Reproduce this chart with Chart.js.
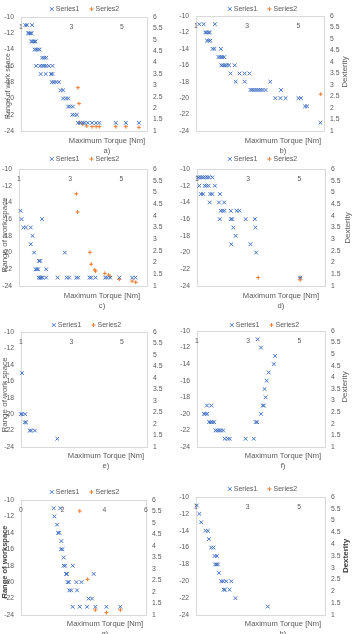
<!DOCTYPE html>
<html>
<head>
<meta charset="utf-8">
<script src="https://cdn.jsdelivr.net/npm/chart.js@4.4.0/dist/chart.umd.min.js"></script>
<style>
  html, body { margin: 0; padding: 0; background: #fff; }
  #wrap { position: relative; width: 356px; height: 634px; overflow: hidden; }
  #wrap canvas { position: absolute; left: 0; top: 0; }
</style>
</head>
<body>
<div id="wrap"></div>
<script>
"use strict";

// tick labels
const xTicks = [1, 3, 5];
const xTicksG = [0, 2, 4, 6];
const leftTicks = [-24, -22, -20, -18, -16, -14, -12, -10];
const rightTicks = [1, 1.5, 2, 2.5, 3, 3.5, 4, 4.5, 5, 5.5, 6];
const seriesNames = ["Series1", "Series2"];

// a)
const aS1X = [1.17, 1.24, 1.44, 1.28, 1.33, 1.38, 1.42, 1.41, 1.47, 1.53, 1.58, 1.54, 1.6, 1.67, 1.74, 1.84, 1.92, 2.0, 1.6, 1.76, 1.85, 1.92, 2.0, 2.1, 2.25, 1.78, 1.98, 2.19, 2.25, 2.22, 2.3, 2.4, 2.5, 2.57, 2.67, 2.67, 2.78, 2.87, 2.87, 2.95, 3.06, 3.04, 3.12, 3.22, 3.26, 3.35, 3.45, 3.52, 3.65, 3.82, 3.98, 4.11, 4.76, 5.16, 5.68];
const aS1Y = [-11, -11, -11, -12, -12, -12, -12, -13, -13, -13, -13, -14, -14, -14, -14, -15, -15, -15, -16, -16, -16, -16, -16, -16, -16, -17, -17, -17, -17, -18, -18, -18, -18, -19, -19, -20, -20, -20, -21, -21, -21, -22, -22, -22, -23, -23, -23, -23, -23, -23, -23, -23, -23, -23, -23];
const aS2X = [3.26, 3.3, 3.33, 3.45, 3.61, 3.82, 3.98, 4.11, 4.76, 5.16, 5.68];
const aS2Y = [2.9, 2.2, 1.38, 1.31, 1.22, 1.19, 1.19, 1.19, 1.19, 1.19, 1.16];

// b)
const bS1X = [1.13, 1.3, 1.74, 1.36, 1.42, 1.48, 1.54, 1.43, 1.5, 1.56, 1.65, 1.72, 1.97, 1.88, 1.95, 2.02, 2.1, 1.99, 2.06, 2.13, 2.2, 2.29, 2.51, 2.35, 2.7, 2.9, 3.09, 2.55, 2.9, 3.9, 3.13, 3.2, 3.28, 3.36, 3.44, 3.52, 3.6, 3.72, 4.32, 4.1, 4.3, 4.5, 5.0, 5.1, 5.26, 5.34, 5.86];
const bS1Y = [-11, -11, -11, -12, -12, -12, -12, -13, -13, -13, -14, -14, -14, -15, -15, -15, -15, -16, -16, -16, -16, -16, -16, -17, -17, -17, -17, -18, -18, -18, -19, -19, -19, -19, -19, -19, -19, -19, -19, -20, -20, -20, -20, -20, -21, -21, -23];
const bS2X = [5.87];
const bS2Y = [2.6];

// c)
const cS1X = [1.06, 1.1, 1.17, 1.27, 1.46, 1.9, 1.53, 1.46, 1.59, 2.79, 1.78, 1.83, 1.65, 1.7, 1.75, 2.06, 1.77, 1.82, 1.87, 1.92, 2.06, 2.51, 2.86, 2.96, 3.24, 3.31, 3.76, 3.82, 3.99, 4.37, 4.44, 4.56, 4.92, 5.42, 5.55];
const cS1Y = [-15, -16, -17, -17, -17, -16, -18, -19, -20, -20, -21, -21, -22, -22, -22, -22, -23, -23, -23, -23, -23, -23, -23, -23, -23, -23, -23, -23, -23, -23, -23, -23, -23, -23, -23];
const cS2X = [3.24, 3.29, 3.77, 3.82, 3.96, 3.99, 4.35, 4.5, 4.56, 4.92, 5.42, 5.56];
const cS2Y = [4.94, 4.16, 2.44, 1.93, 1.69, 1.64, 1.54, 1.47, 1.4, 1.29, 1.21, 1.16];

// d)
const dS1X = [1.05, 1.12, 1.19, 1.26, 1.33, 1.4, 1.47, 1.6, 1.09, 1.3, 1.37, 1.45, 1.7, 1.15, 1.24, 1.52, 1.6, 1.9, 1.5, 1.86, 2.06, 1.93, 2.0, 2.07, 2.32, 2.55, 2.66, 1.89, 2.32, 2.38, 2.9, 3.26, 2.42, 3.28, 2.51, 2.34, 3.09, 3.31, 5.03];
const dS1Y = [-11, -11, -11, -11, -11, -11, -11, -11, -12, -12, -12, -12, -12, -13, -13, -13, -13, -13, -14, -14, -14, -15, -15, -15, -15, -15, -15, -16, -16, -16, -16, -16, -17, -17, -18, -19, -19, -20, -23];
const dS2X = [3.39, 5.03, 5.03];
const dS2Y = [1.36, 1.36, 1.26];

// e)
const eS1X = [1.04, 1.0, 1.05, 1.17, 1.15, 1.2, 1.35, 1.4, 1.55, 2.44];
const eS1Y = [-15, -20, -20, -20, -21, -21, -22, -22, -22, -23];
const eS2X = [];
const eS2Y = [];

// f)
const fS1X = [3.37, 3.5, 4.05, 4.0, 3.8, 3.72, 3.64, 3.68, 3.57, 3.61, 1.39, 1.56, 3.5, 1.27, 1.33, 1.4, 3.29, 3.35, 1.47, 1.54, 1.6, 1.67, 1.72, 1.79, 1.86, 1.93, 2.02, 2.08, 2.2, 2.28, 2.9, 3.22];
const fS1Y = [-11, -12, -13, -14, -15, -16, -17, -18, -19, -19, -19, -19, -20, -20, -20, -20, -21, -21, -21, -21, -21, -21, -22, -22, -22, -22, -22, -23, -23, -23, -23, -23];
const fS2X = [];
const fS2Y = [];

// g)
const gS1X = [1.57, 1.89, 1.6, 1.73, 1.78, 1.84, 1.94, 1.92, 1.99, 2.05, 2.05, 2.12, 2.48, 2.16, 2.21, 3.49, 2.24, 2.29, 2.66, 2.9, 2.32, 2.41, 2.69, 3.25, 3.41, 2.48, 2.82, 3.17, 3.57, 4.1, 4.77];
const gS1Y = [-11, -11, -12, -13, -14, -14, -15, -16, -16, -17, -18, -18, -18, -19, -19, -19, -20, -20, -20, -20, -21, -21, -21, -22, -22, -23, -23, -23, -23, -23, -23];
const gS2X = [2.82, 3.2, 3.57, 4.1, 4.77];
const gS2Y = [5.52, 2.55, 1.22, 1.1, 1.22];

// h)
const hS1X = [1.03, 1.13, 1.2, 1.37, 1.46, 1.5, 1.59, 1.68, 1.72, 1.81, 1.74, 1.8, 1.85, 1.89, 1.98, 2.05, 2.17, 2.37, 2.07, 2.12, 2.3, 2.53, 3.78];
const hS1Y = [-11, -12, -13, -14, -14, -15, -16, -16, -17, -17, -18, -18, -18, -19, -20, -20, -20, -20, -21, -21, -21, -22, -23];
const hS2X = [];
const hS2Y = [];

const BLUE = "#4472C4";
const ORANGE = "#ED7D31";
const TXT = "#595959";
const FONT = "'Liberation Sans', Arial, sans-serif";
const YW = 20; // fixed width of each y axis box

// page layout of each panel (plot box, legend, titles)
const panels = [
  { cap: "a)", L: 21, R: 147, T: 17, B: 131, xMin: 1, ticks: xTicks, leg: [85, 9], tit: [107, 141], capY: 151,
    yt: { text: "Range of work space", x: 8, y: 86, size: 7 }, s1: [aS1X, aS1Y], s2: [aS2X, aS2Y] },
  { cap: "b)", L: 196, R: 324, T: 16, B: 131, xMin: 1, ticks: xTicks, leg: [263, 9], tit: [283, 141], capY: 151,
    yt: { text: "Dexterity", x: 345, y: 72, size: 8 }, s1: [bS1X, bS1Y], s2: [bS2X, bS2Y] },
  { cap: "c)", L: 19, R: 147, T: 169, B: 286, xMin: 1, ticks: xTicks, leg: [85, 159], tit: [102, 296], capY: 306,
    yt: { text: "Range of work space", x: 5, y: 235, size: 8 }, s1: [cS1X, cS1Y], s2: [cS2X, cS2Y] },
  { cap: "d)", L: 197, R: 325, T: 169, B: 286, xMin: 1, ticks: xTicks, leg: [263, 159], tit: [281, 296], capY: 306,
    yt: { text: "Dexterity", x: 348, y: 228, size: 8 }, s1: [dS1X, dS1Y], s2: [dS2X, dS2Y] },
  { cap: "e)", L: 21, R: 147, T: 332, B: 447, xMin: 1, ticks: xTicks, leg: [87, 325], tit: [106, 456], capY: 466,
    yt: { text: "Range of work space", x: 5, y: 395, size: 8 }, s1: [eS1X, eS1Y], s2: [eS2X, eS2Y] },
  { cap: "f)", L: 197, R: 325, T: 331, B: 447, xMin: 1, ticks: xTicks, leg: [265, 325], tit: [283, 456], capY: 466,
    yt: { text: "Dexterity", x: 345, y: 387, size: 8 }, s1: [fS1X, fS1Y], s2: [fS2X, fS2Y] },
  { cap: "g)", L: 21, R: 146, T: 500, B: 615, xMin: 0, ticks: xTicksG, leg: [85, 492], tit: [105, 624], capY: 634,
    yt: { text: "Range of workspace", x: 5, y: 562, size: 7.5, bold: true }, s1: [gS1X, gS1Y], s2: [gS2X, gS2Y] },
  { cap: "h)", L: 196, R: 325, T: 497, B: 615, xMin: 1, ticks: xTicks, leg: [263, 489], tit: [283, 624], capY: 634,
    yt: { text: "Dexterity", x: 346, y: 556, size: 8, bold: true }, s1: [hS1X, hS1Y], s2: [hS2X, hS2Y] }
];

function toPoints(xs, ys) {
  return xs.map((x, i) => ({ x: x, y: ys[i] }));
}

function marker(ctx, style, x, y, r, color) {
  ctx.save();
  ctx.strokeStyle = color;
  ctx.lineWidth = 1;
  ctx.beginPath();
  if (style === "crossRot") {
    const d = r * Math.SQRT1_2;
    ctx.moveTo(x - d, y - d); ctx.lineTo(x + d, y + d);
    ctx.moveTo(x - d, y + d); ctx.lineTo(x + d, y - d);
  } else {
    ctx.moveTo(x - r, y); ctx.lineTo(x + r, y);
    ctx.moveTo(x, y - r); ctx.lineTo(x, y + r);
  }
  ctx.stroke();
  ctx.restore();
}

function decoPlugin(p) {
  return {
    id: "deco",
    beforeDatasetsDraw(chart) {
      const { ctx, chartArea: a } = chart;
      ctx.save();
      ctx.strokeStyle = "#d9d9d9";
      ctx.lineWidth = 1;
      ctx.strokeRect(Math.round(a.left) + 0.5, Math.round(a.top) + 0.5,
        Math.round(a.right - a.left), Math.round(a.bottom - a.top));
      ctx.restore();
    },
    afterDraw(chart) {
      const ctx = chart.ctx;
      const xs = chart.scales.x;
      const a = chart.chartArea;
      ctx.save();
      ctx.fillStyle = TXT;
      ctx.textBaseline = "middle";

      // x tick labels sit inside the top of the plot
      ctx.font = "6.8px " + FONT;
      ctx.textAlign = "center";
      p.ticks.forEach(v => ctx.fillText(String(v), xs.getPixelForValue(v), a.top + 10));

      // legend
      ctx.font = "7px " + FONT;
      ctx.textAlign = "left";
      const w1 = ctx.measureText(seriesNames[0]).width;
      const w2 = ctx.measureText(seriesNames[1]).width;
      const total = 7 + w1 + 9 + 7 + w2;
      let lx = p.leg[0] - total / 2;
      const ly = p.leg[1];
      marker(ctx, "crossRot", lx + 2, ly, 2.6, BLUE);
      ctx.fillText(seriesNames[0], lx + 6, ly);
      lx += 7 + w1 + 9;
      marker(ctx, "cross", lx + 2, ly, 2, ORANGE);
      ctx.fillText(seriesNames[1], lx + 6, ly);

      // x title and caption
      ctx.font = "7.6px " + FONT;
      ctx.textAlign = "center";
      ctx.fillText("Maximum Torque [Nm]", p.tit[0], p.tit[1]);
      ctx.fillText(p.cap, p.tit[0], p.capY);

      // y title
      ctx.translate(p.yt.x, p.yt.y);
      ctx.rotate(-Math.PI / 2);
      ctx.font = (p.yt.bold ? "bold " : "") + p.yt.size + "px " + FONT;
      ctx.fillStyle = p.yt.bold ? "#404040" : TXT;
      ctx.fillText(p.yt.text, 0, 0);
      ctx.restore();
    }
  };
}

const wrap = document.getElementById("wrap");

panels.forEach(p => {
  const cv = document.createElement("canvas");
  cv.width = 356;
  cv.height = 634;
  wrap.appendChild(cv);

  const tickFont = { family: FONT, size: 6.8 };

  new Chart(cv, {
    type: "scatter",
    data: {
      datasets: [
        {
          label: seriesNames[0],
          data: toPoints(p.s1[0], p.s1[1]),
          yAxisID: "y",
          pointStyle: "crossRot",
          pointRadius: 2.6,
          pointBorderWidth: 1,
          borderColor: BLUE,
          backgroundColor: BLUE,
          clip: false
        },
        {
          label: seriesNames[1],
          data: toPoints(p.s2[0], p.s2[1]),
          yAxisID: "y2",
          pointStyle: "cross",
          pointRadius: 2,
          pointBorderWidth: 1,
          borderColor: ORANGE,
          backgroundColor: ORANGE,
          clip: false
        }
      ]
    },
    options: {
      responsive: false,
      animation: false,
      events: [],
      layout: {
        padding: { left: p.L - YW, right: 356 - p.R - YW, top: p.T, bottom: 634 - p.B }
      },
      plugins: {
        legend: { display: false },
        tooltip: { enabled: false }
      },
      scales: {
        x: { type: "linear", display: false, min: p.xMin, max: 6 },
        y: {
          position: "left",
          min: -24,
          max: -10,
          afterBuildTicks: s => { s.ticks = leftTicks.map(v => ({ value: v })); },
          afterFit: s => { s.width = YW; },
          ticks: { font: tickFont, color: TXT, padding: 7, callback: v => String(v) },
          grid: { display: false, drawTicks: false },
          border: { display: false }
        },
        y2: {
          position: "right",
          min: 1,
          max: 6,
          afterBuildTicks: s => { s.ticks = rightTicks.map(v => ({ value: v })); },
          afterFit: s => { s.width = YW; },
          ticks: { font: tickFont, color: TXT, padding: 6, callback: v => String(v) },
          grid: { display: false, drawTicks: false },
          border: { display: false }
        }
      }
    },
    plugins: [decoPlugin(p)]
  });
});
</script>
</body>
</html>
